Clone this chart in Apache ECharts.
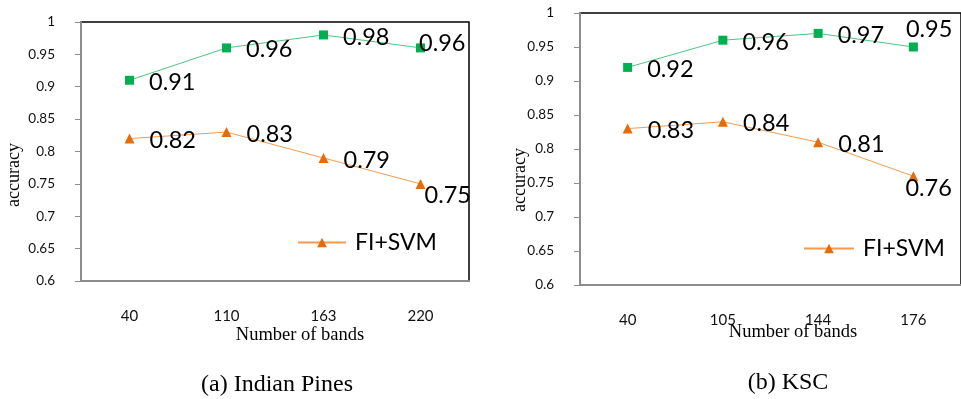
<!DOCTYPE html>
<html>
<head>
<meta charset="utf-8">
<script src="https://cdn.jsdelivr.net/npm/echarts@6/dist/echarts.min.js"></script>
<style>
  html, body { margin: 0; padding: 0; background: #fff; }
  #chart { width: 961px; height: 399px; }
</style>
</head>
<body>
<div id="chart"></div>
<script>
var bandsIP = ['40', '110', '163', '220'];
var bandsKSC = ['40', '105', '144', '176'];
var ipTop = [0.91, 0.96, 0.98, 0.96];
var ipSvm = [0.82, 0.83, 0.79, 0.75];
var kscTop = [0.92, 0.96, 0.97, 0.95];
var kscSvm = [0.83, 0.84, 0.81, 0.76];

var chart = echarts.init(document.getElementById('chart'));

var greenLine = '#4cc583', greenMark = '#00b050';
var orangeLine = '#f39a50', orangeMark = '#e46c0a';

// the last label of each line is moved by hand, like in the picture
function withLastLabel(vals, off) {
    return vals.map(function (v, i) {
        if (i === vals.length - 1) return { value: v, label: { offset: off } };
        return v;
    });
}

function xAx(idx, cats) {
    return {
        type: 'category', gridIndex: idx, data: cats, z: 3,
        axisLine: { lineStyle: { color: '#8c8c8c', width: 2 } },
        axisTick: { show: false },
        axisLabel: { margin: 28, fontFamily: 'Lato', fontSize: 15, color: '#111' }
    };
}
function yAx(idx) {
    return {
        type: 'value', gridIndex: idx, min: 0.6, max: 1, interval: 0.05, z: 3,
        splitLine: { show: false },
        axisLine: { show: true, lineStyle: { color: '#8c8c8c', width: 2 } },
        axisTick: { show: true, length: 6, lineStyle: { color: '#8c8c8c' } },
        axisLabel: { margin: 26, fontFamily: 'Lato', fontSize: 13.5, color: '#111' }
    };
}
function line(name, idx, data, lc, mc, sym) {
    return {
        name: name, type: 'line', xAxisIndex: idx, yAxisIndex: idx,
        data: data, symbol: sym, symbolSize: sym === 'rect' ? 9 : 10,
        lineStyle: { color: lc, width: 1 },
        itemStyle: { color: mc },
        label: {
            show: true, position: 'right', distance: 15, offset: [0, 2],
            fontFamily: 'Lato', fontSize: 23.5, color: '#000'
        }
    };
}

var option = {
    animation: false,
    grid: [
        { left: 81, top: 22, width: 388, height: 259, show: true, borderColor: '#000', borderWidth: 1.5 },
        { left: 580, top: 13, width: 388, height: 272, show: true, borderColor: '#000', borderWidth: 1.5 }
    ],
    xAxis: [xAx(0, bandsIP), xAx(1, bandsKSC)],
    yAxis: [yAx(0), yAx(1)],
    legend: [
        { data: ['FI+SVM'], left: 297, top: 231, padding: 0, itemWidth: 48, itemHeight: 12,
          textStyle: { fontFamily: 'Lato', fontSize: 23, color: '#000', padding: [0, 0, 0, 4] } },
        { data: ['FI+SVM'], left: 803, top: 237, padding: 0, itemWidth: 50, itemHeight: 12,
          textStyle: { fontFamily: 'Lato', fontSize: 23, color: '#000', padding: [0, 0, 0, 4] } }
    ],
    series: [
        line('FI', 0, withLastLabel(ipTop, [-21, -4]), greenLine, greenMark, 'rect'),
        line('FI+SVM', 0, withLastLabel(ipSvm, [-16, 12]), orangeLine, orangeMark, 'triangle'),
        line('FI', 1, withLastLabel(kscTop, [-27, -18]), greenLine, greenMark, 'rect'),
        line('FI+SVM', 1, withLastLabel(kscSvm, [-28, 12]), orangeLine, orangeMark, 'triangle')
    ],
    graphic: [
        { type: 'text', x: 300, y: 335, style: { text: 'Number of bands', font: '18.5px "Liberation Serif"', fill: '#000', align: 'center', verticalAlign: 'middle' } },
        { type: 'text', x: 793, y: 332, style: { text: 'Number of bands', font: '18.5px "Liberation Serif"', fill: '#000', align: 'center', verticalAlign: 'middle' } },
        { type: 'text', x: 14, y: 175, rotation: Math.PI / 2, style: { text: 'accuracy', font: '18px "Liberation Serif"', fill: '#000', align: 'center', verticalAlign: 'middle' } },
        { type: 'text', x: 520, y: 180, rotation: Math.PI / 2, style: { text: 'accuracy', font: '18px "Liberation Serif"', fill: '#000', align: 'center', verticalAlign: 'middle' } },
        { type: 'text', x: 277, y: 385, style: { text: '(a) Indian Pines', font: '24px "Liberation Serif"', fill: '#000', align: 'center', verticalAlign: 'middle' } },
        { type: 'text', x: 788, y: 383, style: { text: '(b) KSC', font: '24px "Liberation Serif"', fill: '#000', align: 'center', verticalAlign: 'middle' } }
    ]
};

chart.setOption(option);
</script>
</body>
</html>
